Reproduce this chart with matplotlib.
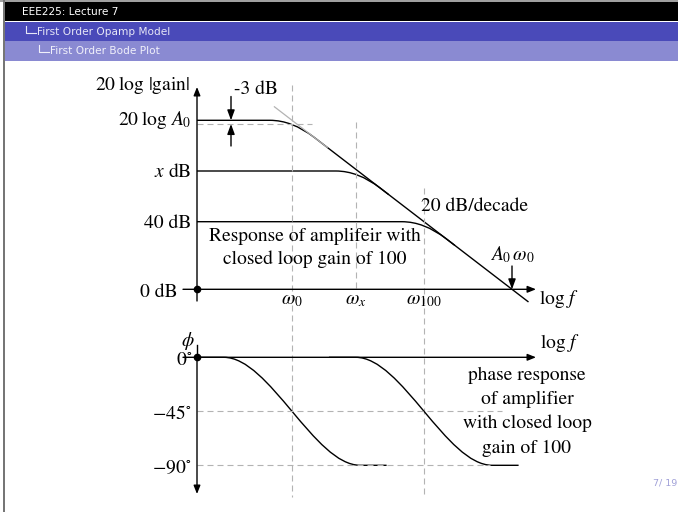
import matplotlib
matplotlib.use("Agg")
import matplotlib.pyplot as plt
from matplotlib.path import Path
from matplotlib.patches import PathPatch, Rectangle

plt.rcParams['mathtext.fontset'] = 'stix'
plt.rcParams['font.family'] = ['STIXGeneral', 'DejaVu Serif']

# ---------------- data ----------------
header_title = "EEE225: Lecture 7"
header_section = "First Order Opamp Model"
header_subsection = "First Order Bode Plot"
page_label = "7/ 19"

# Magnitude plot: x in decades relative to omega_0, y in dB
level_db = [100, 70, 40, 0]
level_labels = [r"$20\;\log\,A_0$", r"$x$ dB", "40 dB", "0 dB"]
guide_decade = [0.0, 1.45, 3.0]
guide_labels = [r"$\omega_0$", r"$\omega_x$", r"$\omega_{100}$"]
unity_gain_decade = 5.0
minus3db_level = 97.8

# gain curves (flat part, rounded corner, -20 dB/decade roll-off)
open_loop_u = [-2.16, -0.5, 0.0, 0.5, 5.375]
open_loop_db = [100, 100, 100, 90, -7.5]
gain_x_u = [-2.16, 1.0, 1.5, 2.0, 2.2]
gain_x_db = [70, 70, 70, 60, 56]
gain_100_u = [-2.16, 2.5, 3.0, 3.5, 3.7]
gain_100_db = [40, 40, 40, 30, 26]
asymptote_u = [-0.4, 0.8]
asymptote_db = [108, 84]

# Phase plot: x in decades, y in degrees
phase_levels = [0, -45, -90]
phase_labels = [r"$0^{\circ}$", r"$-45^{\circ}$", r"$-90^{\circ}$"]
phase_open_u = [-2.16, -1.55, -0.51, 0.51, 1.55, 2.15]
phase_open_deg = [0, 0, 0, -90, -90, -90]
phase_cl_u = [0.84, 1.45, 2.49, 3.51, 4.55, 5.15]
phase_cl_deg = [0, 0, 0, -90, -90, -90]

# ---------------- layout helpers (pixel -> data) ----------------
W, H = 678, 512
PXD, X0 = 44.0, 292.0          # px per decade, px of omega_0
PXDB, Y0DB = 1.69, 289.3       # px per dB, px of 0 dB
PXDEG, Y0DEG = 1.2, 357.3      # px per degree, px of 0 deg

def ux(px):
    return (px - X0) / PXD

def dby(py):
    return (Y0DB - py) / PXDB

def degy(py):
    return (Y0DEG - py) / PXDEG

fig = plt.figure(figsize=(W / 100, H / 100), dpi=100)
fig.patch.set_facecolor('white')

ax_frame = fig.add_axes([0, 0, 1, 1])
ax_frame.set_xlim(0, W)
ax_frame.set_ylim(H, 0)
ax_frame.axis('off')

ax_mag = fig.add_axes([0, 0, 1, 1])
ax_mag.set_xlim(ux(0), ux(W))
ax_mag.set_ylim(dby(H), dby(0))
ax_mag.axis('off')
ax_mag.patch.set_visible(False)

ax_ph = fig.add_axes([0, 0, 1, 1])
ax_ph.set_xlim(ux(0), ux(W))
ax_ph.set_ylim(degy(H), degy(0))
ax_ph.axis('off')
ax_ph.patch.set_visible(False)

LW = 1.0
GRAY = '#b3b3b3'
DASH = (0, (5.4, 3.6))
FS = 14.0


def arrow(ax, x0, y0, x1, y1, hl=5.0, hw=2.0, lw=LW):
    ax.annotate("", xy=(x1, y1), xytext=(x0, y0),
                arrowprops=dict(arrowstyle=f"-|>,head_length={hl},head_width={hw}",
                                lw=lw, color='k', shrinkA=0, shrinkB=0,
                                mutation_scale=1))


def text(ax, x, y, s, ha='left', size=FS, **kw):
    ax.text(x, y, s, ha=ha, va='baseline', fontsize=size, color='k', **kw)


def curve(ax, us, ys, codes, **kw):
    path = Path(list(zip(us, ys)), codes)
    ax.add_patch(PathPatch(path, fill=False, **kw))

# ---------------- header / frame ----------------
ax_frame.add_patch(Rectangle((0, 0), W, 2.2, color='#a0a0a0', lw=0))
ax_frame.add_patch(Rectangle((4.6, 2.2), W, 19.3, color='black', lw=0))
ax_frame.add_patch(Rectangle((4.6, 21.5), W, 19.8, color='#4a4ab9', lw=0))
ax_frame.add_patch(Rectangle((4.6, 41.3), W, 19.2, color='#8a8ad2', lw=0))
ax_frame.add_patch(Rectangle((3.0, 0), 1.8, H, color='#767676', lw=0))
hdr = dict(va='center', fontsize=7.6, family='DejaVu Sans')
ax_frame.text(22, 12, header_title, color='white', **hdr)
ax_frame.plot([26, 26, 36], [26, 33, 33], color='#e6e6f6', lw=0.8)
ax_frame.text(37, 32, header_section, color='#e6e6f6', **hdr)
ax_frame.plot([39, 39, 49], [45, 52, 52], color='#f0f0fa', lw=0.8)
ax_frame.text(50, 51.5, header_subsection, color='#f0f0fa', **hdr)
ax_frame.text(677, 486, page_label, ha='right', va='baseline', fontsize=6.8,
              color='#a0a0d8', family='DejaVu Sans')

# ---------------- magnitude plot ----------------
u_axis = ux(197)
# guide lines
ax_mag.plot([guide_decade[0]] * 2, [dby(85), dby(497)], color=GRAY, lw=0.8, ls=DASH)
ax_mag.plot([guide_decade[1]] * 2, [dby(122), dby(289.3)], color=GRAY, lw=0.8, ls=DASH)
ax_mag.plot([guide_decade[2]] * 2, [dby(188), dby(497)], color=GRAY, lw=0.8, ls=DASH)
ax_mag.plot([u_axis, ux(312)], [minus3db_level] * 2, color=GRAY, lw=0.8, ls=DASH)
ax_mag.plot(asymptote_u, asymptote_db, color=GRAY, lw=0.9)

# axes
arrow(ax_mag, u_axis, dby(301), u_axis, dby(87))
arrow(ax_mag, ux(183), 0, ux(536), 0)
ax_mag.plot([u_axis], [0], 'o', color='k', ms=4.5)

codes_q = [Path.MOVETO, Path.LINETO, Path.CURVE3, Path.CURVE3, Path.LINETO]
for us, ys in [(open_loop_u, open_loop_db), (gain_x_u, gain_x_db), (gain_100_u, gain_100_db)]:
    curve(ax_mag, us, ys, codes_q, color='k', lw=LW, capstyle='butt')

# level labels
for lvl, lab in zip(level_db[:3], level_labels[:3]):
    ax_mag.annotate(lab, xy=(u_axis, lvl), xytext=(-4.0, -4.6 if lvl != 100 else -3.6),
                    textcoords='offset points', ha='right', va='baseline', fontsize=FS)
ax_mag.annotate(level_labels[3], xy=(u_axis, level_db[3]), xytext=(-13.6, -5.2),
                textcoords='offset points', ha='right', va='baseline', fontsize=FS)

text(ax_mag, ux(190.5), dby(90.5), r"$20\;\log\,|\mathrm{gain}|$", ha='right')
text(ax_mag, ux(234), dby(94), "-3 dB")
arrow(ax_mag, ux(231), dby(96.5), ux(231), level_db[0], hl=6.0, hw=2.2)
arrow(ax_mag, ux(231), dby(146), ux(231), minus3db_level, hl=6.0, hw=2.2)

for g, lab in zip(guide_decade, guide_labels):
    text(ax_mag, g, dby(304.5), lab, ha='center')
text(ax_mag, ux(539), dby(304), r"$\log\,f$")
text(ax_mag, ux(421), dby(210.7), "20 dB/decade")
text(ax_mag, ux(315), dby(240.7), "Response of amplifeir with", ha='center')
text(ax_mag, ux(315), dby(263.5), "closed loop gain of 100", ha='center')
text(ax_mag, ux(490), dby(260), r"$A_0\,\omega_0$")
arrow(ax_mag, unity_gain_decade, dby(266), unity_gain_decade, 0, hl=6.0, hw=2.2)

# ---------------- phase plot ----------------
ax_ph.plot([u_axis, ux(502)], [phase_levels[1]] * 2, color=GRAY, lw=0.8, ls=DASH)
ax_ph.plot([u_axis, ux(490)], [phase_levels[2]] * 2, color=GRAY, lw=0.8, ls=DASH)
ax_ph.plot([u_axis, u_axis], [degy(345), phase_levels[0]], color='k', lw=LW)
arrow(ax_ph, u_axis, 0, u_axis, degy(494))
arrow(ax_ph, ux(183), 0, ux(536), 0)
ax_ph.plot([u_axis], [0], 'o', color='k', ms=4.5)

codes_c = [Path.MOVETO, Path.LINETO, Path.CURVE4, Path.CURVE4, Path.CURVE4, Path.LINETO]
curve(ax_ph, phase_open_u, phase_open_deg, codes_c, color='k', lw=LW)
curve(ax_ph, phase_cl_u, phase_cl_deg, codes_c, color='k', lw=LW)

for lvl, lab in zip(phase_levels, phase_labels):
    ax_ph.annotate(lab, xy=(u_axis, lvl), xytext=(-3.8, -5.2),
                   textcoords='offset points', ha='right', va='baseline', fontsize=FS)
text(ax_ph, ux(188), degy(346.5), r"$\phi$", ha='center')
text(ax_ph, ux(540), degy(348), r"$\log\,f$")
for s, py in zip(["phase response", "of amplifier", "with closed loop", "gain of 100"],
                 [380, 403.8, 428.2, 452.6]):
    text(ax_ph, ux(527), degy(py), s, ha='center')

fig.savefig("out.png", dpi=100)
